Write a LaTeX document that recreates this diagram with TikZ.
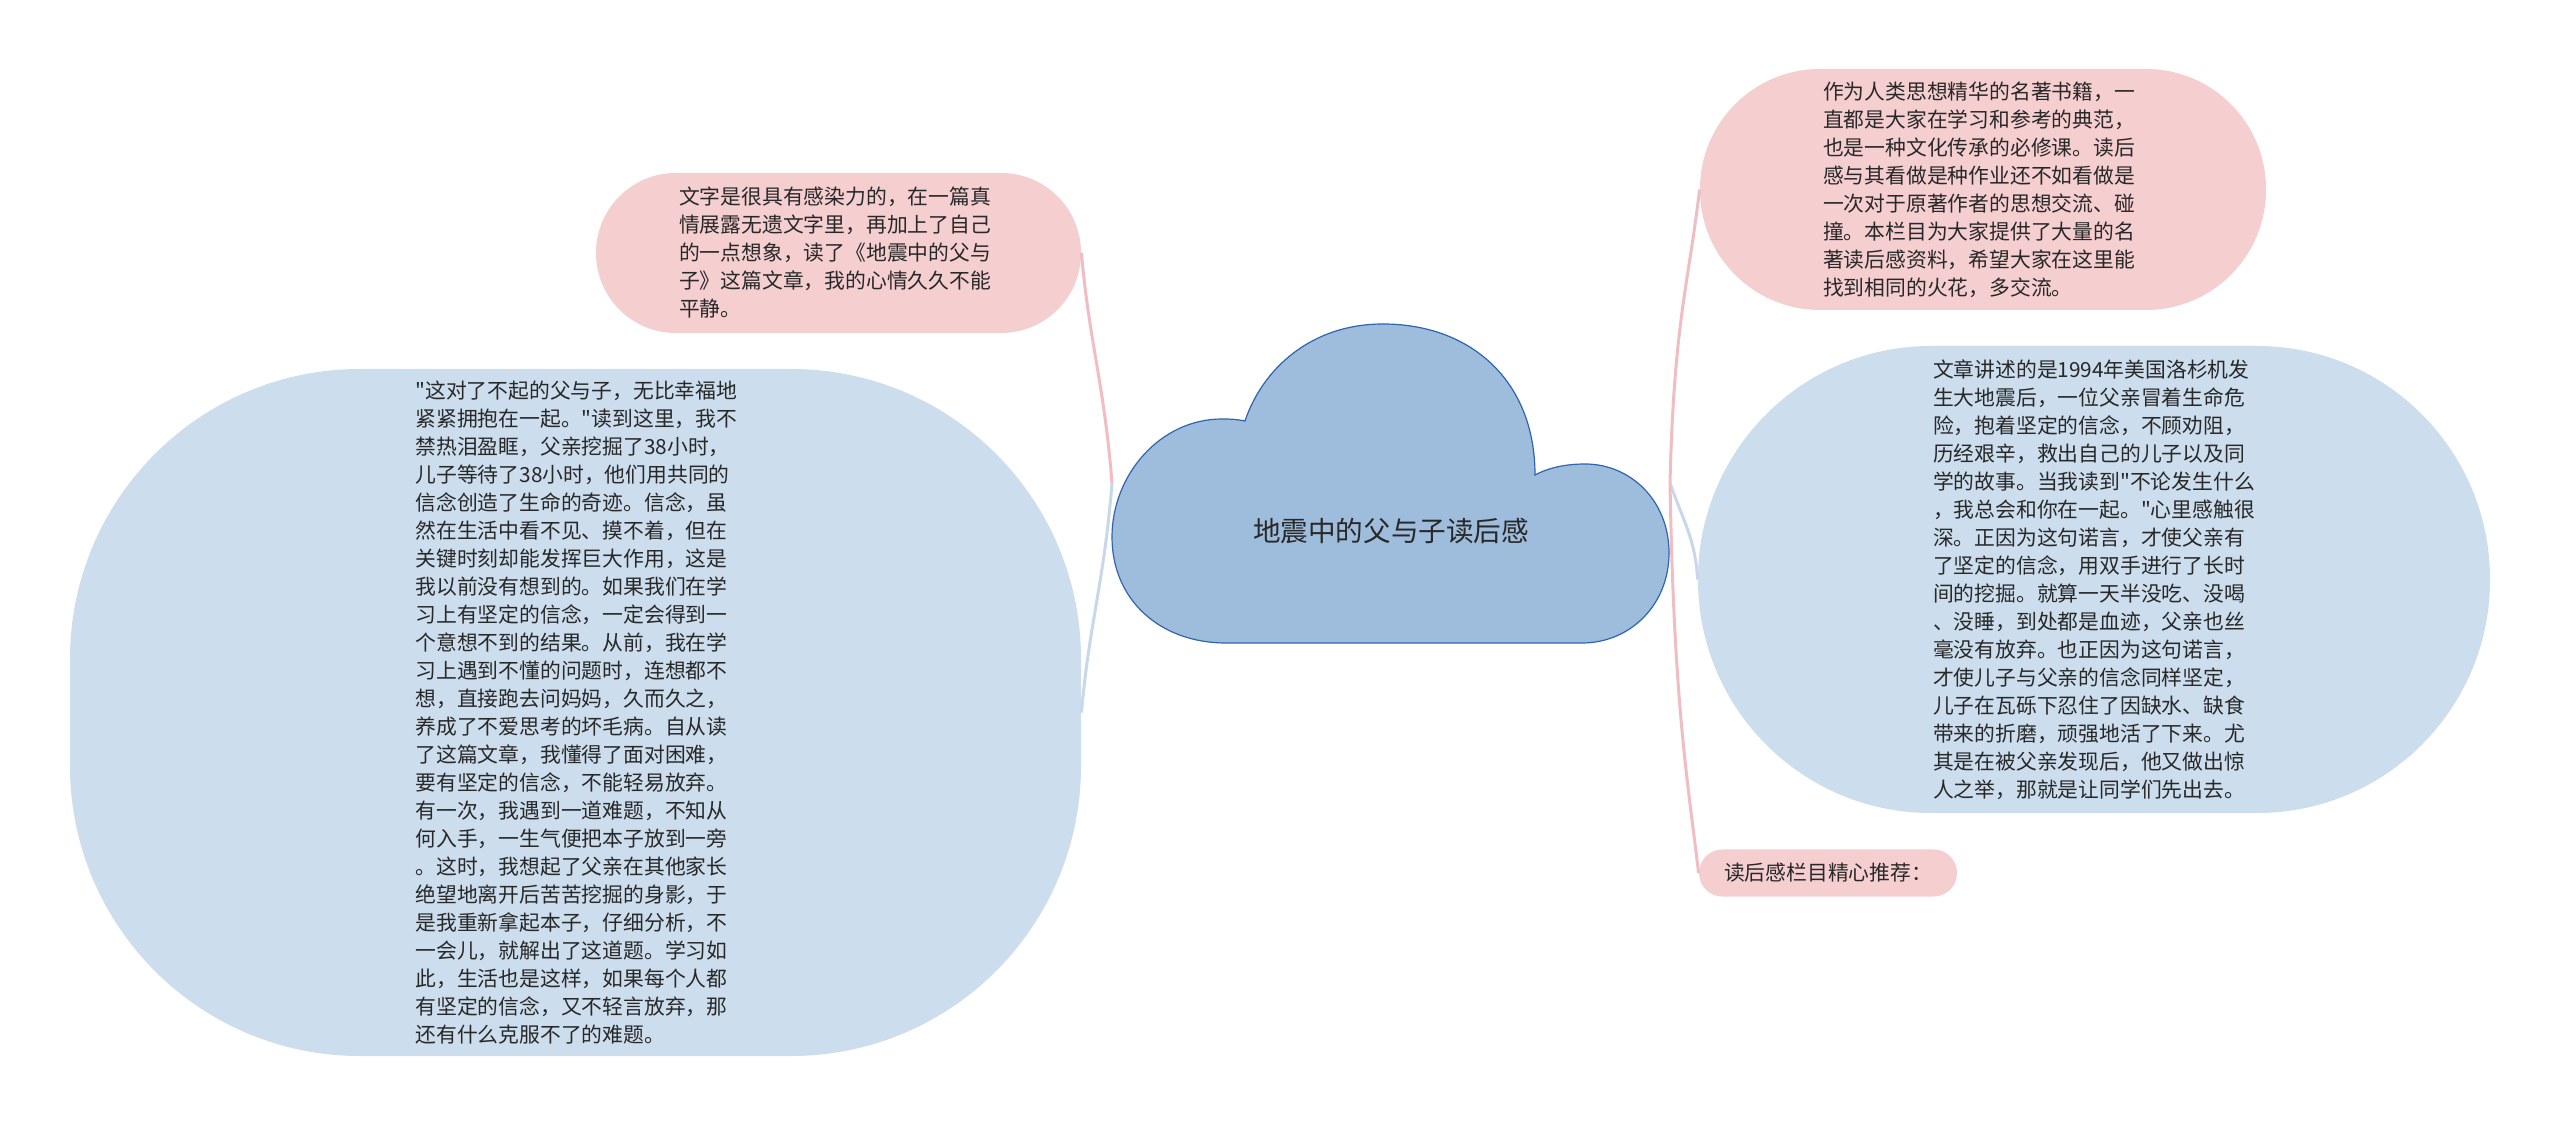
\documentclass[tikz,border=0pt]{standalone}
\usepackage{fontspec}
\newfontfamily\cjk{Noto Sans CJK SC}
\definecolor{pinkfill}{RGB}{245,206,208}
\definecolor{bluefill}{RGB}{204,221,237}
\definecolor{cloudfill}{RGB}{158,188,219}
\definecolor{cloudedge}{RGB}{46,100,176}
\definecolor{lnpink}{RGB}{240,190,194}
\definecolor{lnblue}{RGB}{200,216,234}
\definecolor{txt}{RGB}{40,40,40}
\tikzset{
  box/.style={rectangle, inner sep=0pt, align=left, text=txt,
    font=\cjk\fontsize{10.4}{14}\selectfont},
  pinkbox/.style={box, fill=pinkfill},
  bluebox/.style={box, fill=bluefill},
  pinkconn/.style={draw=lnpink, line width=1.5pt},
  blueconn/.style={draw=lnblue, line width=1.5pt},
}
\begin{document}
\begin{tikzpicture}[x=0.5pt,y=-0.5pt]
\useasboundingbox[fill=white] (0,0) rectangle (2560,1127);

% cloud
\draw[draw=cloudedge, line width=0.6pt, fill=cloudfill]
  (1226,643) -- (1582,643)
  .. controls (1630,643) and (1669,605) .. (1669,553)
  .. controls (1669,500) and (1630,464) .. (1585,464)
  .. controls (1565,464) and (1548,468) .. (1535,475)
  .. controls (1535,380) and (1470,324) .. (1383,324)
  .. controls (1310,324) and (1262,370) .. (1245,421)
  .. controls (1235,419) and (1228,419) .. (1222,419)
  .. controls (1160,419) and (1112,475) .. (1112,537)
  .. controls (1112,600) and (1160,643) .. (1226,643) -- cycle;
\node[text=txt, font=\cjk\fontsize{13.8}{16}\selectfont, inner sep=0pt] (root) at (1391,531) {地震中的父与子读后感};
\coordinate (jl) at (1112,483);
\coordinate (jr) at (1670,483);

% nodes
\node[pinkbox, minimum width=242.5pt, minimum height=80pt, rounded corners=39.9pt, text width=159.5pt] (p1) at (838.5,253)
{文字是很具有感染力的，在一篇真\\情展露无遗文字里，再加上了自己\\的一点想象，读了《地震中的父与\\子》这篇文章，我的心情久久不能\\平静。};

\node[bluebox, minimum width=505.5pt, minimum height=343.5pt, rounded corners=145pt, text width=160pt] (b1) at (575.5,712.5)
{"这对了不起的父与子，无比幸福地\\紧紧拥抱在一起。"读到这里，我不\\禁热泪盈眶，父亲挖掘了38小时，\\儿子等待了38小时，他们用共同的\\信念创造了生命的奇迹。信念，虽\\然在生活中看不见、摸不着，但在\\关键时刻却能发挥巨大作用，这是\\我以前没有想到的。如果我们在学\\习上有坚定的信念，一定会得到一\\个意想不到的结果。从前，我在学\\习上遇到不懂的问题时，连想都不\\想，直接跑去问妈妈，久而久之，\\养成了不爱思考的坏毛病。自从读\\了这篇文章，我懂得了面对困难，\\要有坚定的信念，不能轻易放弃。\\有一次，我遇到一道难题，不知从\\何入手，一生气便把本子放到一旁\\。这时，我想起了父亲在其他家长\\绝望地离开后苦苦挖掘的身影，于\\是我重新拿起本子，仔细分析，不\\一会儿，就解出了这道题。学习如\\此，生活也是这样，如果每个人都\\有坚定的信念，又不轻言放弃，那\\还有什么克服不了的难题。};

\node[pinkbox, minimum width=283pt, minimum height=120.5pt, rounded corners=60pt, text width=160pt] (p2) at (1983,189.5)
{作为人类思想精华的名著书籍，一\\直都是大家在学习和参考的典范，\\也是一种文化传承的必修课。读后\\感与其看做是种作业还不如看做是\\一次对于原著作者的思想交流、碰\\撞。本栏目为大家提供了大量的名\\著读后感资料，希望大家在这里能\\找到相同的火花，多交流。};

\node[bluebox, minimum width=396pt, minimum height=233.5pt, rounded corners=116.5pt, text width=161pt] (b2) at (2094,579.5)
{文章讲述的是1994年美国洛杉机发\\生大地震后，一位父亲冒着生命危\\险，抱着坚定的信念，不顾劝阻，\\历经艰辛，救出自己的儿子以及同\\学的故事。当我读到"不论发生什么\\，我总会和你在一起。"心里感触很\\深。正因为这句诺言，才使父亲有\\了坚定的信念，用双手进行了长时\\间的挖掘。就算一天半没吃、没喝\\、没睡，到处都是血迹，父亲也丝\\毫没有放弃。也正因为这句诺言，\\才使儿子与父亲的信念同样坚定，\\儿子在瓦砾下忍住了因缺水、缺食\\带来的折磨，顽强地活了下来。尤\\其是在被父亲发现后，他又做出惊\\人之举，那就是让同学们先出去。};

\node[pinkbox, minimum width=129pt, minimum height=23.5pt, rounded corners=11.7pt] (p3) at (1828,873)
{读后感栏目精心推荐：};

% connectors
\draw[pinkconn] (jl) .. controls +(-8,-100) and +(8,90) .. (p1.east);
\draw[blueconn] (jl) .. controls +(-8,100) and +(8,-90) .. (b1.east);
\draw[pinkconn] (jr) .. controls +(4,-160) and +(-12,100) .. (p2.west);
\draw[blueconn] (jr) .. controls +(12,35) and +(-2,-40) .. (b2.west);
\draw[pinkconn] (jr) .. controls +(4,220) and +(-12,-100) .. (p3.west);
\end{tikzpicture}
\end{document}
